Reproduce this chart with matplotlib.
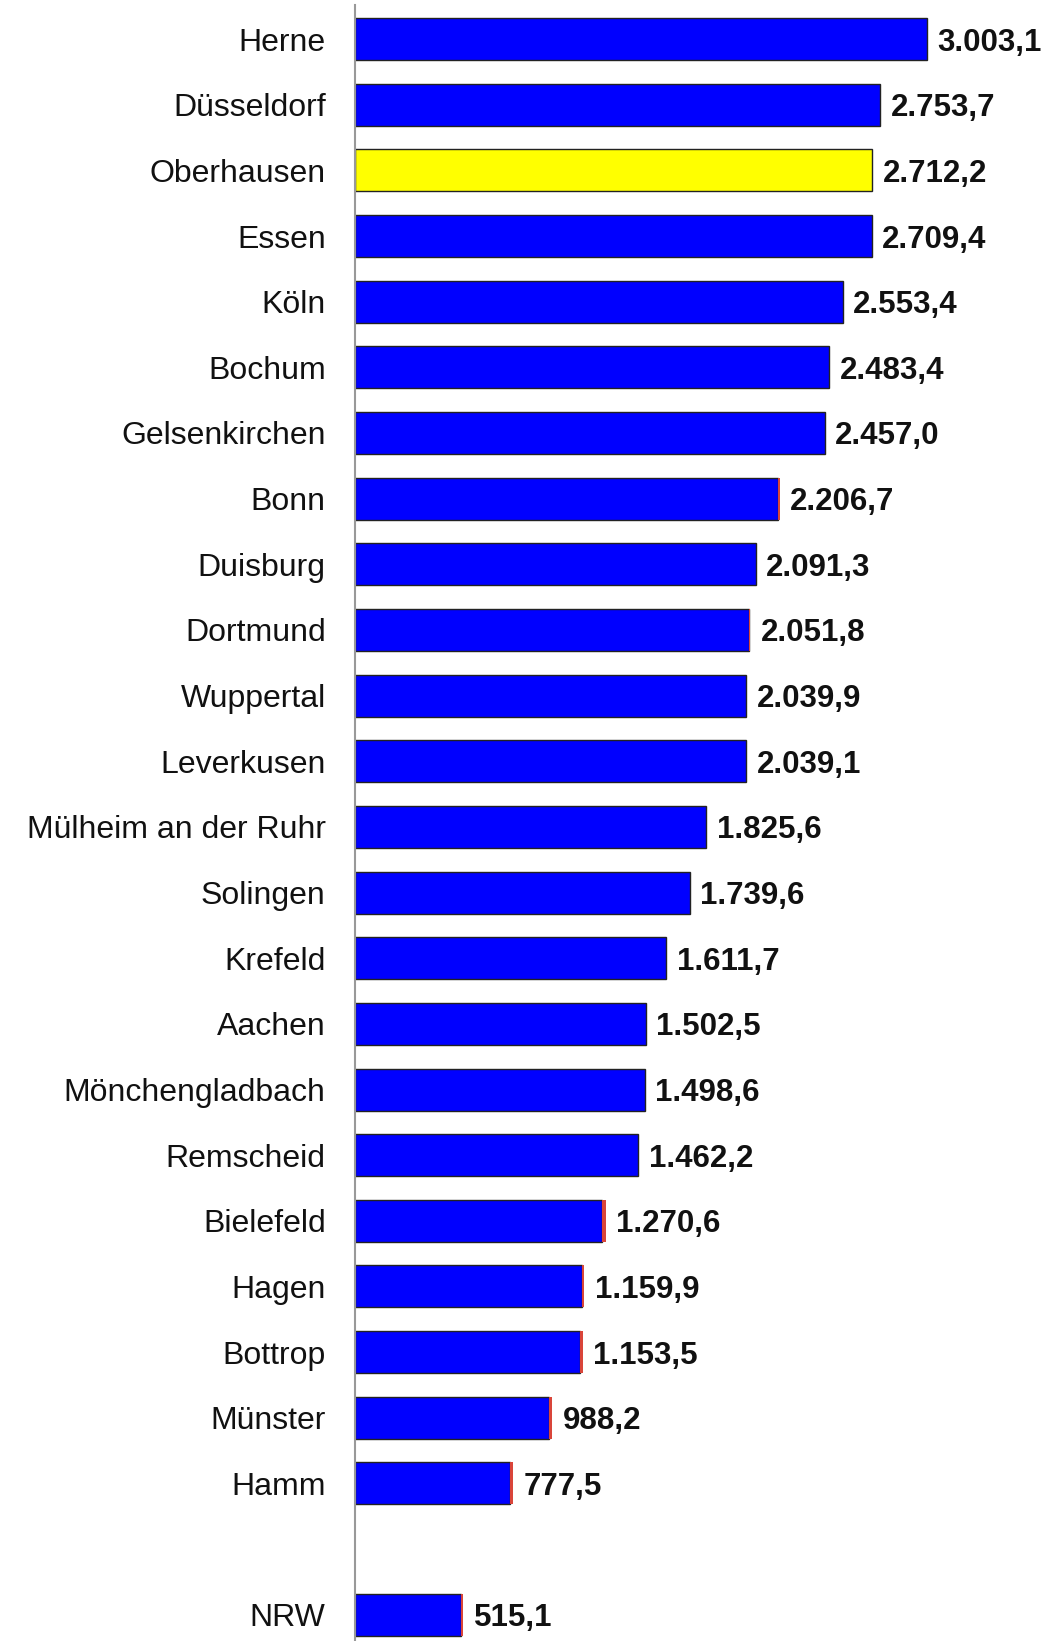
import matplotlib.pyplot as plt

plt.rcParams['font.family'] = ['Liberation Sans', 'DejaVu Sans']

cities = ['Herne', 'Düsseldorf', 'Oberhausen', 'Essen', 'Köln', 'Bochum',
          'Gelsenkirchen', 'Bonn', 'Duisburg', 'Dortmund', 'Wuppertal',
          'Leverkusen', 'Mülheim an der Ruhr', 'Solingen', 'Krefeld', 'Aachen',
          'Mönchengladbach', 'Remscheid', 'Bielefeld', 'Hagen', 'Bottrop',
          'Münster', 'Hamm', '', 'NRW']
values = [3003.1, 2753.7, 2712.2, 2709.4, 2553.4, 2483.4, 2457.0, 2206.7,
          2091.3, 2051.8, 2039.9, 2039.1, 1825.6, 1739.6, 1611.7, 1502.5,
          1498.6, 1462.2, 1270.6, 1159.9, 1153.5, 988.2, 777.5, None, 515.1]
# small second series shown as red tips at bar ends
extra = [0, 0, 0, 0, 0, 0, 0, 10, 0, 8, 0, 0, 0, 0, 0, 0,
         0, 0, 20, 14, 14, 14, 16, None, 14]
labels = ['3.003,1', '2.753,7', '2.712,2', '2.709,4', '2.553,4', '2.483,4',
          '2.457,0', '2.206,7', '2.091,3', '2.051,8', '2.039,9', '2.039,1',
          '1.825,6', '1.739,6', '1.611,7', '1.502,5', '1.498,6', '1.462,2',
          '1.270,6', '1.159,9', '1.153,5', '988,2', '777,5', '', '515,1']

# the value axis starts a little left of zero, as in the source chart
x_start = -51

fig = plt.figure(figsize=(10.53, 16.41), dpi=100)
ax = fig.add_axes([0.337, 0.0, 0.663, 0.997])

for i, (v, e, lab) in enumerate(zip(values, extra, labels)):
    if v is None:
        continue
    color = '#FFFF00' if cities[i] == 'Oberhausen' else '#0000FF'
    ax.barh(i, v - x_start, left=x_start, height=0.64, color=color,
            edgecolor='#222222', linewidth=1.0)
    if e:
        ax.barh(i, e, left=v, height=0.64, color='#D9453A', linewidth=0)
    ax.text(v + e + 55, i, lab, va='center_baseline', ha='left', fontsize=22.5,
            fontweight='bold', color='#111111')

ax.set_yticks(range(len(cities)))
ax.set_yticklabels(cities, fontsize=23, color='#111111')
ax.tick_params(axis='y', length=0, pad=21)
ax.set_xlim(x_start, 3677)
ax.set_ylim(24.4, -0.52)
ax.set_xticks([])
for s in ['top', 'right', 'bottom']:
    ax.spines[s].set_visible(False)
ax.spines['left'].set_color('#999999')
ax.spines['left'].set_linewidth(1.5)

plt.savefig('out.png', dpi=100)
